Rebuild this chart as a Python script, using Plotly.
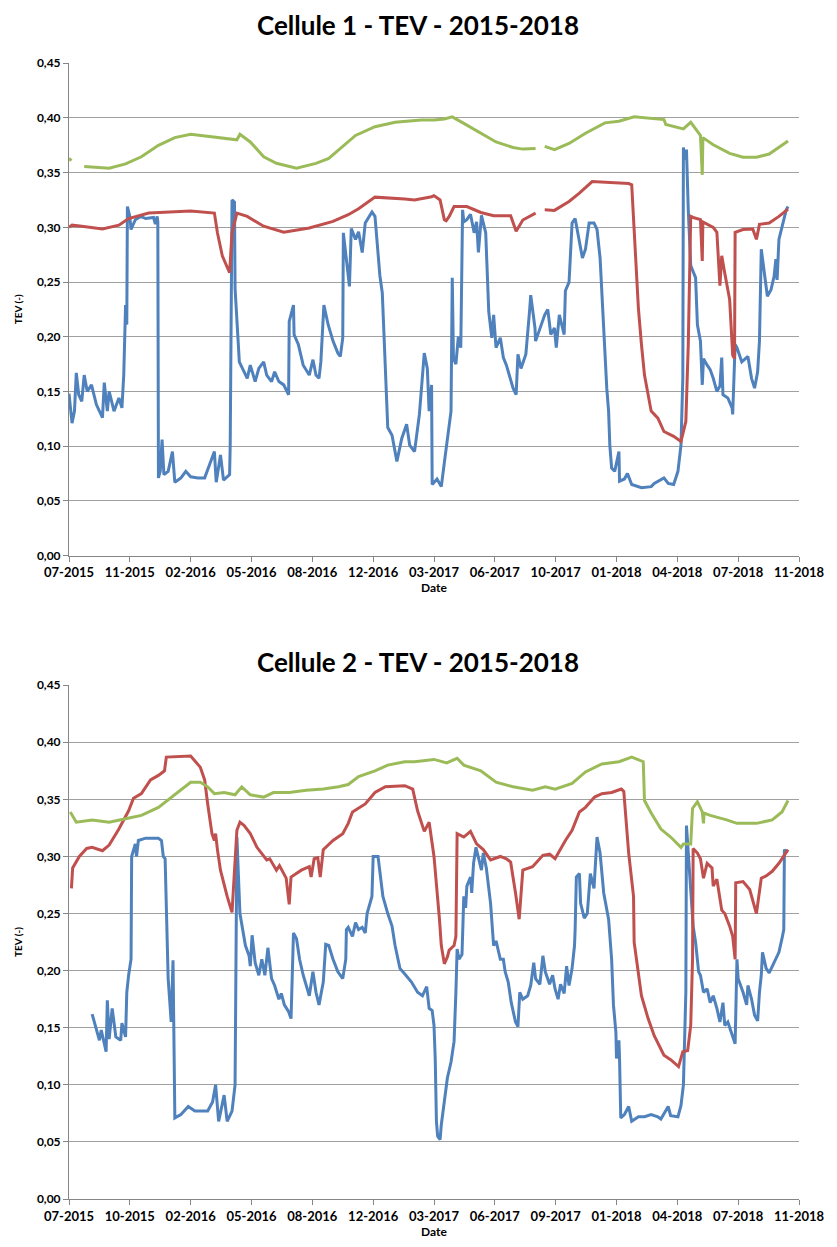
import pandas as pd
import plotly.graph_objects as go

# ---------------- DATA ----------------
# Day offsets counted from the first measurement date of each cell
c1_start = "2015-07-24"
c2_start = "2015-07-21"

c1_blue_day = [0, 5, 9, 12, 16, 21, 25, 30, 37, 45, 55, 58, 63, 66, 74, 82, 87, 90, 93, 95, 96, 100, 102, 109, 118, 126, 139, 142, 145, 146,
               147, 150, 153, 156, 163, 170, 174, 184, 192, 200, 212, 223, 231, 239, 242, 249, 254, 264, 265, 268, 272, 273, 280, 288, 293,
               298, 306, 312, 320, 325, 333, 338, 345, 353, 361, 362, 369, 370, 377, 385, 395, 401, 406, 411, 414, 419, 426, 434, 442, 446,
               450, 451, 455, 461, 464, 471, 476, 482, 487, 498, 503, 511, 515, 520, 524, 531, 539, 547, 555, 560, 568, 576, 584, 589, 592,
               596, 597, 605, 612, 617, 628, 630, 632, 636, 640, 644, 647, 649, 654, 660, 666, 670, 673, 678, 685, 690, 695, 698, 702, 709,
               714, 719, 726, 730, 735, 738, 743, 751, 757, 759, 766, 767, 782, 787, 792, 798, 801, 806, 814, 816, 822, 827, 832, 839, 844,
               849, 855, 863, 868, 873, 876, 879, 881, 884, 887, 889, 892, 897, 904, 905, 913, 918, 925, 941, 957, 962, 978, 985, 994, 1001,
               1006, 1009, 1010, 1012, 1015, 1018, 1022, 1026, 1030, 1033, 1038, 1041, 1043, 1049, 1054, 1059, 1065, 1070, 1073, 1075, 1083,
               1090, 1091, 1095, 1098, 1106, 1111, 1116, 1122, 1127, 1132, 1135, 1138, 1143, 1148, 1154, 1159, 1162, 1164, 1167, 1172, 1179, 1182]
c1_blue_tev = [0.148, 0.121, 0.132, 0.167, 0.147, 0.141, 0.165, 0.150, 0.156, 0.138, 0.126, 0.158, 0.132, 0.150, 0.132, 0.144, 0.135, 0.165, 0.229, 0.211, 0.319, 0.310, 0.298, 0.307, 0.310, 0.308, 0.309, 0.303, 0.310, 0.305,
               0.071, 0.077, 0.106, 0.074, 0.077, 0.095, 0.067, 0.071, 0.077, 0.072, 0.071, 0.071, 0.083, 0.095, 0.067, 0.092, 0.069, 0.074, 0.101, 0.325, 0.323, 0.244, 0.177, 0.168, 0.162,
               0.174, 0.159, 0.171, 0.177, 0.165, 0.159, 0.168, 0.159, 0.156, 0.147, 0.214, 0.229, 0.202, 0.193, 0.174, 0.165, 0.179, 0.165, 0.162, 0.177, 0.229, 0.211, 0.196, 0.185, 0.182,
               0.199, 0.295, 0.277, 0.246, 0.299, 0.289, 0.296, 0.277, 0.304, 0.314, 0.310, 0.256, 0.240, 0.171, 0.117, 0.110, 0.086, 0.107, 0.120, 0.101, 0.095, 0.129, 0.185, 0.171, 0.132,
               0.156, 0.065, 0.070, 0.063, 0.085, 0.132, 0.254, 0.180, 0.175, 0.200, 0.190, 0.316, 0.305, 0.307, 0.312, 0.295, 0.305, 0.277, 0.311, 0.295, 0.223, 0.199, 0.220, 0.190, 0.199,
               0.181, 0.174, 0.162, 0.153, 0.147, 0.184, 0.171, 0.184, 0.223, 0.238, 0.208, 0.196, 0.220, 0.225, 0.202, 0.208, 0.190, 0.220, 0.202, 0.242, 0.250, 0.304, 0.308, 0.286, 0.272,
               0.280, 0.304, 0.304, 0.298, 0.272, 0.240, 0.202, 0.179, 0.153, 0.132, 0.101, 0.080, 0.077, 0.095, 0.068, 0.070, 0.075, 0.065, 0.062, 0.063, 0.066, 0.071, 0.066, 0.065, 0.077,
               0.101, 0.162, 0.373, 0.362, 0.371, 0.316, 0.265, 0.259, 0.254, 0.211, 0.196, 0.156, 0.180, 0.174, 0.170, 0.162, 0.150, 0.155, 0.181, 0.147, 0.144,
               0.135, 0.129, 0.193, 0.190, 0.177, 0.180, 0.182, 0.162, 0.153, 0.168, 0.196, 0.280, 0.256, 0.237, 0.243, 0.255, 0.271, 0.252, 0.289, 0.301, 0.316, 0.319]

c1_red_day = [0, 5, 21, 55, 82, 98, 131, 174, 200, 239, 244, 252, 264, 268, 276, 293, 320, 353, 362, 395, 434, 459, 476, 503, 552, 568, 596, 600,
              610, 617, 620, 625, 633, 654, 677, 698, 726, 735, 746, 767, None, 782, 798, 822, 839, 860, 881, 920, 925, 929, 936, 941, 946,
              957, 968, 978, 994, 1006, 1014, 1018, 1020, 1022, 1026, 1038, 1041, 1042, 1059, 1065, 1070, 1073, 1078, 1086, 1091, 1094,
              1095, 1108, 1124, 1130, 1135, 1151, 1167, 1182]
c1_red_tev = [0.300, 0.302, 0.301, 0.2985, 0.302, 0.308, 0.313, 0.3145, 0.315, 0.313, 0.295, 0.274, 0.2585, 0.295, 0.313, 0.310, 0.301, 0.2955, 0.2964, 0.2994, 0.3055, 0.3115, 0.317, 0.3276, 0.3258, 0.325, 0.328, 0.329,
              0.325, 0.307, 0.306, 0.310, 0.319, 0.319, 0.3136, 0.3106, 0.3106, 0.2964, 0.3067, 0.313, None, 0.316, 0.3155, 0.3236, 0.3312, 0.3418, 0.341, 0.340, 0.3388, 0.301, 0.226, 0.193, 0.165,
              0.132, 0.1256, 0.1134, 0.109, 0.1043, 0.1226, 0.193, 0.254, 0.310, 0.309, 0.307, 0.2693, 0.305, 0.300, 0.2955, 0.2467, 0.274, 0.258, 0.234, 0.183, 0.180,
              0.2955, 0.298, 0.2985, 0.289, 0.3027, 0.304, 0.310, 0.3167]

c1_green_day = [0, 4, None, 25, 66, 93, 119, 147, 174, 200, 228, 255, 276, 281, 298, 320, 341, 374, 406, 427, 450, 471, 503, 536, 579, 600,
                617, 630, 649, 677, 702, 730, 746, 767, None, 782, 798, 822, 849, 881, 904, 929, 957, 978, 981, 1010, 1022, 1038, 1041,
                1042, 1059, 1086, 1108, 1130, 1151, 1167, 1182]
c1_green_tev = [0.363, 0.361, None, 0.3555, 0.354, 0.358, 0.3645, 0.375, 0.382, 0.385, 0.383, 0.381, 0.380, 0.385, 0.378, 0.3645, 0.3585, 0.354, 0.3585, 0.363, 0.3736, 0.384, 0.392, 0.396, 0.398, 0.398,
                0.399, 0.401, 0.395, 0.386, 0.378, 0.373, 0.3715, 0.372, None, 0.374, 0.371, 0.3767, 0.386, 0.3955, 0.397, 0.401, 0.3994, 0.3985, 0.394, 0.390, 0.396, 0.384, 0.348,
                0.382, 0.3755, 0.3676, 0.364, 0.364, 0.367, 0.373, 0.379]

c2_blue_day = [38, 45, 50, 53, 61, 63, 66, 71, 77, 85, 87, 93, 95, 98, 102, 103, 109, 111, 114, 126, 147, 152, 155, 158, 163, 168, 171, 174,
               184, 196, 207, 216, 228, 236, 241, 246, 255, 260, 268, 273, 276, 281, 285, 290, 296, 298, 301, 306, 312, 317, 322, 327, 333,
               338, 345, 349, 354, 361, 365, 369, 374, 379, 385, 390, 395, 401, 406, 411, 418, 422, 427, 434, 442, 450, 455, 456, 459, 466,
               471, 476, 482, 487, 490, 498, 500, 508, 516, 524, 531, 536, 544, 552, 563, 573, 581, 588, 592, 597, 600, 602, 604, 606, 610,
               612, 617, 622, 628, 633, 636, 638, 641, 646, 649, 652, 654, 660, 662, 665, 669, 673, 678, 681, 686, 693, 698, 702, 709, 714,
               717, 722, 727, 734, 738, 741, 746, 754, 759, 764, 767, 774, 779, 783, 790, 795, 799, 804, 808, 814, 818, 822, 827, 831, 832,
               834, 839, 841, 847, 852, 857, 863, 868, 873, 879, 887, 892, 895, 899, 900, 904, 905, 907, 913, 920, 925, 936, 946, 957, 968,
               973, 985, 989, 1001, 1006, 1010, 1014, 1015, 1018, 1022, 1026, 1030, 1035, 1038, 1043, 1049, 1054, 1059, 1065, 1070, 1075,
               1078, 1083, 1090, 1095, 1098, 1100, 1108, 1114, 1116, 1122, 1127, 1132, 1135, 1138, 1140, 1146, 1151, 1156, 1162, 1167,
               1172, 1175, 1176, 1180]
c2_blue_tev = [0.162, 0.149, 0.139, 0.148, 0.129, 0.174, 0.140, 0.167, 0.142, 0.139, 0.154, 0.142, 0.181, 0.196, 0.210, 0.300, 0.311, 0.300, 0.314, 0.316, 0.316, 0.314, 0.300, 0.298, 0.193, 0.155, 0.209, 0.071,
               0.074, 0.081, 0.077, 0.077, 0.077, 0.085, 0.100, 0.068, 0.091, 0.068, 0.077, 0.100, 0.317, 0.250, 0.239, 0.222, 0.213, 0.204, 0.231, 0.207, 0.196, 0.210, 0.196, 0.220, 0.193,
               0.187, 0.175, 0.180, 0.170, 0.164, 0.158, 0.233, 0.228, 0.210, 0.196, 0.187, 0.178, 0.199, 0.181, 0.170, 0.190, 0.223, 0.222, 0.210, 0.199, 0.193, 0.210, 0.236, 0.238, 0.230,
               0.242, 0.236, 0.238, 0.233, 0.250, 0.265, 0.300, 0.300, 0.265, 0.250, 0.239, 0.222, 0.202, 0.197, 0.190, 0.181, 0.178, 0.186, 0.167, 0.165, 0.152, 0.123, 0.068, 0.055, 0.052,
               0.065, 0.085, 0.106, 0.120, 0.138, 0.181, 0.219, 0.210, 0.214, 0.265, 0.255, 0.274, 0.282, 0.268, 0.294, 0.308, 0.298, 0.288, 0.303, 0.290, 0.259, 0.222, 0.226, 0.210, 0.210,
               0.199, 0.190, 0.172, 0.155, 0.151, 0.181, 0.175, 0.178, 0.187, 0.207, 0.193, 0.188, 0.213, 0.199, 0.188, 0.196, 0.184, 0.175, 0.188, 0.180, 0.204, 0.187, 0.202, 0.222, 0.236,
               0.282, 0.285, 0.259, 0.246, 0.250, 0.285, 0.272, 0.317, 0.303, 0.268, 0.245, 0.210, 0.170, 0.146, 0.123, 0.139, 0.123, 0.071, 0.074, 0.081, 0.068, 0.072, 0.072, 0.074, 0.072,
               0.070, 0.081, 0.073, 0.072, 0.082, 0.100, 0.181, 0.327, 0.300, 0.271, 0.239, 0.225, 0.199, 0.196, 0.181, 0.184, 0.172, 0.178, 0.167, 0.155, 0.172,
               0.152, 0.155, 0.143, 0.136, 0.210, 0.193, 0.181, 0.170, 0.187, 0.175, 0.161, 0.156, 0.181, 0.196, 0.216, 0.202, 0.198, 0.204, 0.210, 0.216,
               0.228, 0.236, 0.306, 0.303]

c2_red_day = [4, 6, 17, 29, 38, 55, 66, 82, 98, 106, 119, 134, 147, 157, 160, 200, 216, 223, 228, 235, 239, 241, 244, 249, 260, 268, 276, 281,
              288, 298, 309, 325, 330, 341, 346, 357, 362, 365, 382, 395, 398, 403, 409, 413, 418, 434, 450, 459, 466, 487, 503, 520, 552,
              565, 573, 584, 592, 600, 609, 612, 617, 622, 625, 633, 636, 638, 649, 660, 670, 681, 693, 709, 719, 726, 734, 740, 746, 762,
              779, 790, 799, 816, 827, 839, 849, 864, 876, 892, 908, 912, 920, 928, 929, 936, 941, 952, 962, 978, 989, 1002, 1009, 1017,
              1022, 1025, 1026, 1033, 1038, 1043, 1049, 1057, 1059, 1065, 1073, 1078, 1086, 1091, 1095, 1096, 1108, 1119, 1130, 1138,
              1146, 1156, 1167, 1182]
c2_red_tev = [0.272, 0.290, 0.300, 0.307, 0.308, 0.305, 0.310, 0.324, 0.340, 0.351, 0.355, 0.367, 0.371, 0.375, 0.387, 0.388, 0.378, 0.367, 0.346, 0.320, 0.314, 0.320, 0.306, 0.288, 0.265, 0.251, 0.323, 0.330,
              0.327, 0.320, 0.308, 0.297, 0.298, 0.288, 0.292, 0.281, 0.258, 0.282, 0.288, 0.291, 0.282, 0.298, 0.299, 0.282, 0.306, 0.314, 0.320, 0.329, 0.339, 0.346, 0.356, 0.361, 0.362,
              0.359, 0.340, 0.322, 0.330, 0.300, 0.245, 0.222, 0.206, 0.212, 0.218, 0.222, 0.230, 0.320, 0.317, 0.322, 0.311, 0.306, 0.297, 0.300, 0.298, 0.295, 0.268, 0.245, 0.288, 0.291,
              0.301, 0.302, 0.298, 0.314, 0.323, 0.339, 0.343, 0.352, 0.355, 0.356, 0.359, 0.357, 0.303, 0.265, 0.225, 0.196, 0.178, 0.158, 0.143, 0.126, 0.122, 0.116, 0.129, 0.130,
              0.152, 0.210, 0.307, 0.303, 0.298, 0.281, 0.294, 0.290, 0.274, 0.280, 0.253, 0.250, 0.239, 0.230, 0.210, 0.277, 0.278, 0.271, 0.250, 0.281,
              0.283, 0.287, 0.294, 0.306]

c2_green_day = [2, 12, 38, 66, 93, 119, 147, 174, 200, 216, 228, 239, 255, 273, 284, 298, 320, 336, 362, 390, 418, 443, 459, 476, 503, 524,
                552, 568, 600, 621, 638, 649, 677, 702, 730, 762, 783, 799, 827, 849, 876, 904, 925, 944, 946, 957, 973, 989, 1006, 1010,
                1022, 1025, 1033, 1041, 1043, 1044, 1054, 1081, 1098, 1130, 1156, 1172, 1182]
c2_green_tev = [0.339, 0.330, 0.332, 0.330, 0.333, 0.336, 0.343, 0.354, 0.365, 0.365, 0.361, 0.355, 0.356, 0.354, 0.361, 0.354, 0.352, 0.356, 0.356, 0.358, 0.359, 0.361, 0.363, 0.370, 0.375, 0.380,
                0.383, 0.383, 0.385, 0.382, 0.386, 0.380, 0.375, 0.365, 0.361, 0.358, 0.361, 0.359, 0.364, 0.374, 0.381, 0.383, 0.387, 0.383, 0.349, 0.338, 0.324, 0.317, 0.308, 0.311,
                0.311, 0.342, 0.348, 0.339, 0.329, 0.338, 0.336, 0.332, 0.329, 0.329, 0.332, 0.339, 0.349]

y_ticks = [0.00, 0.05, 0.10, 0.15, 0.20, 0.25, 0.30, 0.35, 0.40, 0.45]
titles = ["Cellule 1 - TEV - 2015-2018", "Cellule 2 - TEV - 2015-2018"]
BLUE, RED, GREEN = "#4F81BD", "#C0504D", "#9BBB59"


def to_dates(start, days):
    t0 = pd.Timestamp(start)
    return [None if d is None else t0 + pd.Timedelta(days=d) for d in days]


fig = go.Figure()
series = [
    ("x", "y", c1_start, [(c1_blue_day, c1_blue_tev, BLUE), (c1_red_day, c1_red_tev, RED), (c1_green_day, c1_green_tev, GREEN)]),
    ("x2", "y2", c2_start, [(c2_blue_day, c2_blue_tev, BLUE), (c2_red_day, c2_red_tev, RED), (c2_green_day, c2_green_tev, GREEN)]),
]
for xa, ya, start, lst in series:
    for days, vals, col in lst:
        fig.add_trace(go.Scatter(x=to_dates(start, days), y=vals, mode="lines", xaxis=xa, yaxis=ya,
                                 line=dict(color=col, width=3), connectgaps=False, showlegend=False,
                                 hoverinfo="skip"))

FONT = "Lato"
DAY_MS = 86400000
common_x = dict(type="date", dtick=100 * DAY_MS, tickformat="%m-%Y", showgrid=False,
                showline=True, linecolor="#868686", linewidth=1, ticks="outside", ticklen=5,
                tickcolor="#868686", tickfont=dict(family=FONT, size=13, color="#000000", weight="bold"),
                title=dict(text="Date", font=dict(family=FONT, size=12, color="#000000", weight="bold"), standoff=3),
                zeroline=False)
common_y = dict(range=[0, 0.4502], tickvals=y_ticks, tickformat=".2f", showgrid=True, gridcolor="#A0A0A0",
                gridwidth=1, showline=True, linecolor="#868686", linewidth=1, ticks="outside", ticklen=5,
                tickcolor="#868686", tickfont=dict(family=FONT, size=12, color="#000000", weight="bold"),
                title=dict(text="TEV (-)", font=dict(family=FONT, size=10, color="#000000", weight="bold"), standoff=12),
                zeroline=False)

end1 = pd.Timestamp(c1_start) + pd.Timedelta(days=1200)
end2 = pd.Timestamp(c2_start) + pd.Timedelta(days=1200)

fig.update_layout(
    width=837, height=1247,
    margin=dict(l=69, r=27, t=63, b=43),
    paper_bgcolor="white", plot_bgcolor="white",
    separators=", ",
    hovermode=False,
    xaxis=dict(common_x, domain=[0, 1], anchor="y", range=[pd.Timestamp(c1_start), end1], tick0=c1_start),
    yaxis=dict(common_y, domain=[0.5664, 1.0], anchor="x"),
    xaxis2=dict(common_x, domain=[0, 1], anchor="y2", range=[pd.Timestamp(c2_start), end2], tick0=c2_start),
    yaxis2=dict(common_y, domain=[0, 0.4525], anchor="x2"),
    annotations=[
        dict(text=titles[0], x=0.478, y=1.0333, xref="paper", yref="paper", showarrow=False,
             xanchor="center", yanchor="middle", font=dict(family=FONT, size=26, color="#000000", weight="bold")),
        dict(text=titles[1], x=0.478, y=0.4724, xref="paper", yref="paper", showarrow=False,
             xanchor="center", yanchor="middle", font=dict(family=FONT, size=26, color="#000000", weight="bold")),
    ],
)

fig.write_html("out.html", config={"displayModeBar": False},
               post_script="document.body.style.margin='0px';document.body.style.overflow='hidden';")
